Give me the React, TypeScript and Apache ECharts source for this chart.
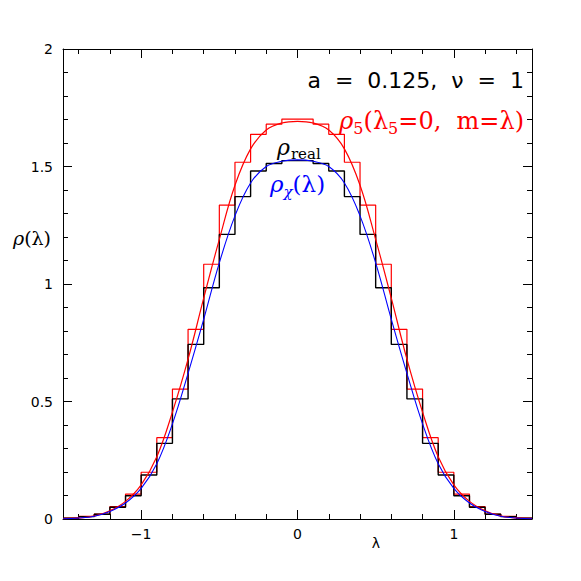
import React, { useEffect, useRef } from "react";
import * as echarts from "echarts";

// Histogram bins: width 0.1 starting at -1.5 (30 bins)
const BIN_START = -1.5;
const BIN_WIDTH = 0.1;

const redHist = [
  0.004, 0.011, 0.021, 0.053, 0.106, 0.199, 0.346, 0.553, 0.807, 1.084,
  1.336, 1.518, 1.637, 1.68, 1.702, 1.702, 1.68, 1.637, 1.518, 1.336,
  1.084, 0.807, 0.553, 0.346, 0.199, 0.106, 0.053, 0.021, 0.011, 0.004,
];

const blackHist = [
  0.003, 0.01, 0.02, 0.05, 0.099, 0.187, 0.322, 0.511, 0.743, 0.984,
  1.211, 1.372, 1.481, 1.513, 1.525, 1.525, 1.513, 1.481, 1.372, 1.211,
  0.984, 0.743, 0.511, 0.322, 0.187, 0.099, 0.05, 0.02, 0.01, 0.003,
];

const curveX = [
  -1.5, -1.4, -1.3, -1.2, -1.1, -1.0, -0.9, -0.8, -0.7, -0.6, -0.5, -0.4, -0.3, -0.2, -0.1,
  0, 0.1, 0.2, 0.3, 0.4, 0.5, 0.6, 0.7, 0.8, 0.9, 1.0, 1.1, 1.2, 1.3, 1.4, 1.5,
];

const redCurve = [
  0.002, 0.005, 0.012, 0.035, 0.075, 0.145, 0.265, 0.455, 0.68, 0.94, 1.19, 1.42, 1.575, 1.655, 1.685,
  1.692, 1.685, 1.655, 1.575, 1.42, 1.19, 0.94, 0.68, 0.455, 0.265, 0.145, 0.075, 0.035, 0.012, 0.005, 0.002,
];

const blueCurve = [
  0.001, 0.004, 0.012, 0.032, 0.068, 0.13, 0.235, 0.405, 0.62, 0.85, 1.09, 1.29, 1.43, 1.5, 1.522,
  1.528, 1.522, 1.5, 1.43, 1.29, 1.09, 0.85, 0.62, 0.405, 0.235, 0.13, 0.068, 0.032, 0.012, 0.004, 0.001,
];

const xMajorTicks = [-1, 0, 1];
const xMinorTicks = [-1.4, -1.2, -0.8, -0.6, -0.4, -0.2, 0.2, 0.4, 0.6, 0.8, 1.2, 1.4];

function stepData(h: number[]) {
  const pts: number[][] = h.map((v, i) => [BIN_START + i * BIN_WIDTH, v]);
  pts.push([BIN_START + h.length * BIN_WIDTH, h[h.length - 1]]);
  return pts;
}

function curveData(ys: number[]) {
  return curveX.map((x, i) => [x, ys[i]]);
}

const BLACK = "#000000";
const RED = "#ff0000";
const BLUE = "#0000ff";

export default function App() {
  const ref = useRef<HTMLDivElement>(null);

  useEffect(() => {
    document.body.style.margin = "0";
    if (!ref.current) return;
    const chart = echarts.init(ref.current, null, { renderer: "svg" });

    const labelFont = { fontFamily: "DejaVu Sans", fontSize: 14, color: BLACK };
    const axisLine = { show: true, onZero: false, lineStyle: { color: BLACK, width: 1 } };
    const mkX = (pos: "top" | "bottom", major: boolean, labels: boolean) => ({
      type: "value",
      position: pos,
      min: -1.5,
      max: 1.5,
      axisLine: major ? axisLine : { show: false, onZero: false },
      axisTick: {
        show: true,
        inside: true,
        length: major ? 9 : 5,
        customValues: major ? xMajorTicks : xMinorTicks,
        lineStyle: { color: BLACK, width: 1 },
      },
      axisLabel: labels
        ? {
            show: true,
            customValues: xMajorTicks,
            margin: 8,
            formatter: (v: number) => (v < 0 ? "\u2212" + Math.abs(v) : String(v)),
            ...labelFont,
          }
        : { show: false },
      splitLine: { show: false },
    });
    const mkY = (pos: "left" | "right", labels: boolean) => ({
      type: "value",
      position: pos,
      min: 0,
      max: 2,
      interval: 0.5,
      axisLine,
      axisTick: { show: true, inside: true, length: 9, lineStyle: { color: BLACK, width: 1 } },
      minorTick: { show: true, splitNumber: 5, length: 5, lineStyle: { color: BLACK, width: 1 } },
      axisLabel: labels ? { show: true, margin: 10, ...labelFont } : { show: false },
      splitLine: { show: false },
      minorSplitLine: { show: false },
    });

    chart.setOption({
      animation: false,
      backgroundColor: "#ffffff",
      grid: { left: 63, right: 49, top: 49, bottom: 62, containLabel: false },
      xAxis: [mkX("bottom", true, true), mkX("bottom", false, false), mkX("top", true, false), mkX("top", false, false)],
      yAxis: [mkY("left", true), mkY("right", false)],
      series: [
        {
          name: "red histogram",
          type: "line",
          step: "end",
          data: stepData(redHist),
          symbol: "none",
          lineStyle: { color: RED, width: 1.2 },
          z: 2,
        },
        {
          name: "black histogram",
          type: "line",
          step: "end",
          data: stepData(blackHist),
          symbol: "none",
          lineStyle: { color: BLACK, width: 1.4 },
          z: 3,
        },
        {
          name: "rho5",
          type: "line",
          smooth: 0.4,
          data: curveData(redCurve),
          symbol: "none",
          lineStyle: { color: RED, width: 1.2 },
          z: 4,
        },
        {
          name: "rho chi",
          type: "line",
          smooth: 0.4,
          data: curveData(blueCurve),
          symbol: "none",
          lineStyle: { color: BLUE, width: 1.1 },
          z: 5,
        },
      ],
      graphic: [
        {
          type: "text",
          x: 524,
          y: 80,
          style: {
            text: "a  =  0.125,  \u03bd  =  1",
            fill: BLACK,
            fontFamily: "DejaVu Sans",
            fontSize: 22,
            align: "right",
            verticalAlign: "middle",
          },
        },
        {
          type: "text",
          x: 524,
          y: 121,
          style: {
            text: "{g|\u03c1}{s|5}{t|(\u03bb}{s|5}{t|=0,  m=\u03bb)}",
            align: "right",
            verticalAlign: "middle",
            fill: RED,
            rich: {
              g: { fontFamily: "DejaVu Serif", fontStyle: "italic", fontSize: 24, lineHeight: 30, fill: RED },
              t: { fontFamily: "DejaVu Serif", fontSize: 24, lineHeight: 30, fill: RED },
              s: { fontFamily: "DejaVu Serif", fontSize: 16, lineHeight: 18, verticalAlign: "bottom", fill: RED },
            },
          },
        },
        {
          type: "text",
          x: 277,
          y: 147,
          style: {
            text: "{g|\u03c1}{s|real}",
            align: "left",
            verticalAlign: "middle",
            fill: BLACK,
            rich: {
              g: { fontFamily: "DejaVu Serif", fontStyle: "italic", fontSize: 22, lineHeight: 28, fill: BLACK },
              s: { fontFamily: "DejaVu Serif", fontSize: 15, lineHeight: 16, verticalAlign: "bottom", padding: [0, 0, 0, 1], fill: BLACK },
            },
          },
        },
        {
          type: "text",
          x: 270,
          y: 184,
          style: {
            text: "{g|\u03c1}{s|\u03c7}{t|(\u03bb)}",
            align: "left",
            verticalAlign: "middle",
            fill: BLUE,
            rich: {
              g: { fontFamily: "DejaVu Serif", fontStyle: "italic", fontSize: 23, lineHeight: 30, fill: BLUE },
              t: { fontFamily: "DejaVu Serif", fontSize: 23, lineHeight: 30, fill: BLUE },
              s: { fontFamily: "DejaVu Serif", fontStyle: "italic", fontSize: 15, lineHeight: 18, verticalAlign: "bottom", fill: BLUE },
            },
          },
        },
        {
          type: "text",
          x: 13,
          y: 238,
          style: {
            text: "{g|\u03c1}{t|(\u03bb)}",
            align: "left",
            verticalAlign: "middle",
            fill: BLACK,
            rich: {
              g: { fontFamily: "DejaVu Serif", fontStyle: "italic", fontSize: 19, fill: BLACK },
              t: { fontFamily: "DejaVu Serif", fontSize: 19, fill: BLACK },
            },
          },
        },
        {
          type: "text",
          x: 376,
          y: 543,
          style: {
            text: "\u03bb",
            align: "center",
            verticalAlign: "middle",
            fill: BLACK,
            fontFamily: "DejaVu Sans",
            fontSize: 14,
          },
        },
      ],
    });

    return () => chart.dispose();
  }, []);

  return <div ref={ref} style={{ width: 581, height: 581 }} />;
}
